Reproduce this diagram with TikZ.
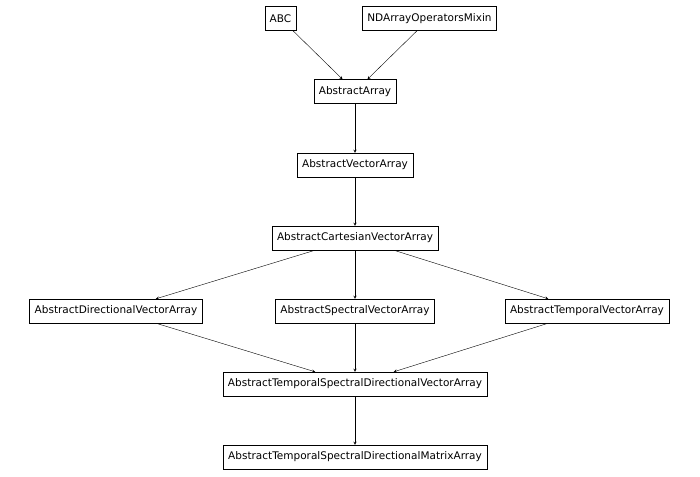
\documentclass[tikz,border=0pt]{standalone}
\usepackage{fontspec}
\setmainfont{DejaVu Sans}
\begin{document}
\begin{tikzpicture}[x=1pt,y=-1pt,-stealth,
  cls/.style={draw,rectangle,inner xsep=5pt,minimum height=24pt,font=\fontsize{10.5}{12}\selectfont}]
\useasboundingbox (0,0) rectangle (700,476);

\node[cls] (abc)   at (280.5,18.5) {ABC};
\node[cls] (mixin) at (429.5,18.5) {NDArrayOperatorsMixin};
\node[cls] (arr)   at (355,91.5)   {AbstractArray};
\node[cls] (vec)   at (355,165)    {AbstractVectorArray};
\node[cls] (cart)  at (355,238)    {AbstractCartesianVectorArray};
\node[cls] (dir)   at (116,311)    {AbstractDirectionalVectorArray};
\node[cls] (spec)  at (355,311)    {AbstractSpectralVectorArray};
\node[cls] (temp)  at (587,311)    {AbstractTemporalVectorArray};
\node[cls] (tsd)   at (355,384)    {AbstractTemporalSpectralDirectionalVectorArray};
\node[cls] (mat)   at (355,457)    {AbstractTemporalSpectralDirectionalMatrixArray};

\draw (abc)   -- (arr);
\draw (mixin) -- (arr);
\draw (arr)   -- (vec);
\draw (vec)   -- (cart);
\draw (cart)  -- (dir);
\draw (cart)  -- (spec);
\draw (cart)  -- (temp);
\draw (dir)   -- (tsd);
\draw (spec)  -- (tsd);
\draw (temp)  -- (tsd);
\draw (tsd)   -- (mat);

\end{tikzpicture}
\end{document}
